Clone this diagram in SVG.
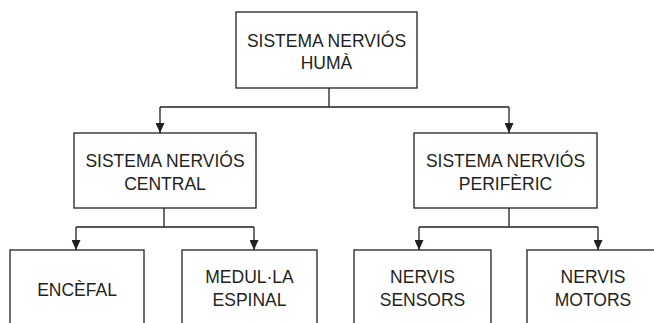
<svg xmlns="http://www.w3.org/2000/svg" width="654" height="323" viewBox="0 0 654 323">
<defs>
<style>
.box{fill:#fff;stroke:#231f20;stroke-width:1.3}
.ln{fill:none;stroke:#231f20;stroke-width:1.3}
text{font-family:"Liberation Sans",Arial,sans-serif;font-size:17.5px;fill:#231f20;text-anchor:middle}
</style>
<marker id="ah" markerWidth="10" markerHeight="9" refX="10" refY="4.5" orient="auto" markerUnits="userSpaceOnUse">
<path d="M0,0 L10,4.5 L0,9 Z" fill="#231f20"/>
</marker>
</defs>
<rect width="654" height="323" fill="#fff"/>
<g id="connectors">
<path class="ln" d="M329,88 V107 M160,107 H509"/>
<path class="ln" d="M160,107 V133" marker-end="url(#ah)"/>
<path class="ln" d="M509,107 V133" marker-end="url(#ah)"/>
<path class="ln" d="M164,208 V227 M76,227 H254"/>
<path class="ln" d="M76,227 V250" marker-end="url(#ah)"/>
<path class="ln" d="M254,227 V250" marker-end="url(#ah)"/>
<path class="ln" d="M509,208 V227 M419,227 H598"/>
<path class="ln" d="M419,227 V250" marker-end="url(#ah)"/>
<path class="ln" d="M598,227 V250" marker-end="url(#ah)"/>
</g>
<g id="n-huma">
<rect class="box" x="236" y="12" width="181" height="76"/>
<text x="326.5" y="47">SISTEMA NERVIÓS</text>
<text x="326.5" y="69">HUMÀ</text>
</g>
<g id="n-central">
<rect class="box" x="74" y="133" width="182" height="75"/>
<text x="165" y="167">SISTEMA NERVIÓS</text>
<text x="165" y="190">CENTRAL</text>
</g>
<g id="n-periferic">
<rect class="box" x="414" y="133" width="183" height="75"/>
<text x="505.5" y="167">SISTEMA NERVIÓS</text>
<text x="505.5" y="190">PERIFÈRIC</text>
</g>
<g id="n-encefal">
<rect class="box" x="10" y="250" width="134" height="80"/>
<text x="77" y="296">ENCÈFAL</text>
</g>
<g id="n-medulla">
<rect class="box" x="182" y="250" width="135" height="80"/>
<text x="249.5" y="283">MEDUL·LA</text>
<text x="249.5" y="306">ESPINAL</text>
</g>
<g id="n-sensors">
<rect class="box" x="354" y="250" width="137" height="80"/>
<text x="422.5" y="283">NERVIS</text>
<text x="422.5" y="306">SENSORS</text>
</g>
<g id="n-motors">
<rect class="box" x="527" y="250" width="137" height="80"/>
<text x="593" y="283">NERVIS</text>
<text x="593" y="306">MOTORS</text>
</g>
</svg>
